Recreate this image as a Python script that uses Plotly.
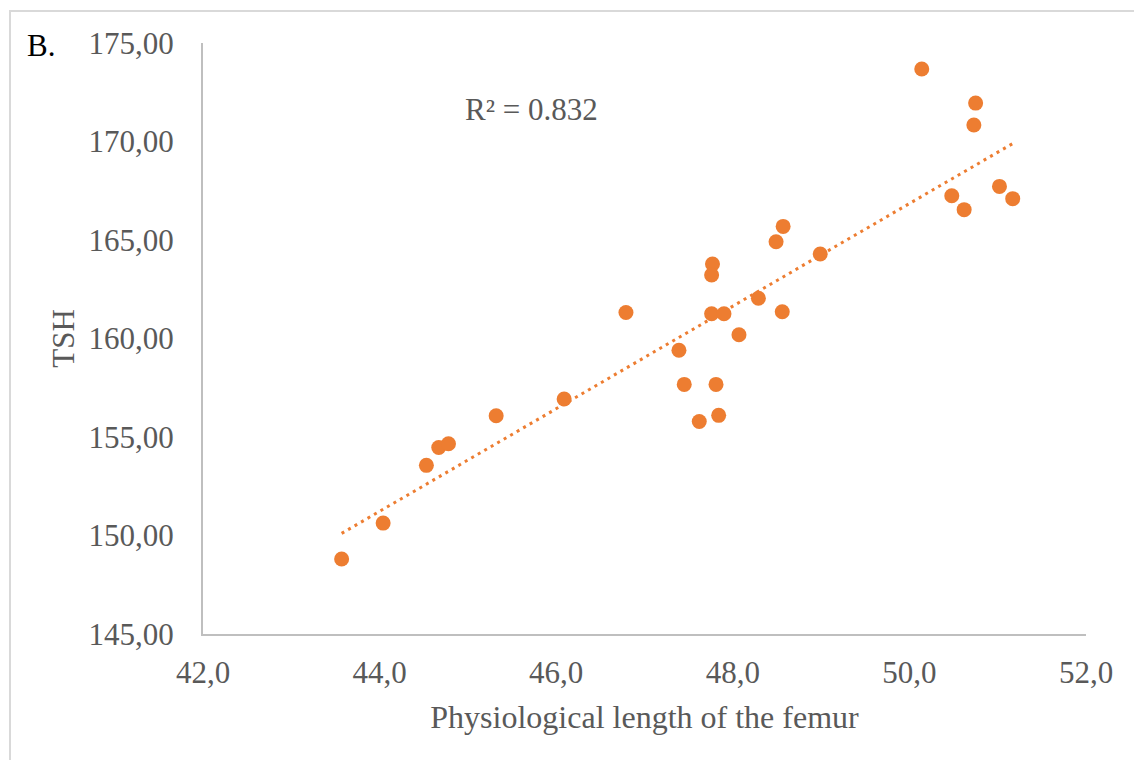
import numpy as np
import plotly.graph_objects as go

# Physiological femur length vs TSH
femur_length = [
    43.57, 44.04, 44.53, 44.67, 44.78, 45.32, 46.09, 46.79, 47.39, 47.45,
    47.62, 47.77, 47.76, 47.76, 47.90, 47.81, 47.84, 48.07, 48.29, 48.49,
    48.57, 48.56, 48.99, 50.14, 50.48, 50.62, 50.73, 50.75, 51.02, 51.17,
]
tsh = [
    148.81, 150.63, 153.56, 154.47, 154.66, 156.08, 156.93, 161.32, 159.40, 157.67,
    155.79, 163.78, 163.22, 161.26, 161.26, 157.67, 156.10, 160.19, 162.04, 164.91,
    165.69, 161.36, 164.29, 173.68, 167.25, 166.54, 170.84, 171.95, 167.72, 167.10,
]
r_squared_label = "R² = 0.832"

ORANGE = "#ED7D31"
GRAY_TEXT = "#595959"
AXIS_GRAY = "#BFBFBF"
FONT = "Liberation Serif"

# linear trend over the data range
slope, intercept = np.polyfit(femur_length, tsh, 1)
trend_x = np.array([min(femur_length), max(femur_length)])
trend_y = slope * trend_x + intercept

fig = go.Figure()
fig.add_trace(go.Scatter(
    x=trend_x, y=trend_y, mode="lines",
    line=dict(color=ORANGE, width=3, dash="3px,4.5px"),
    hoverinfo="skip", showlegend=False,
))
fig.add_trace(go.Scatter(
    x=femur_length, y=tsh, mode="markers",
    marker=dict(color=ORANGE, size=15, line=dict(width=0)),
    showlegend=False,
))

fig.update_layout(
    width=1134, height=760,
    margin=dict(l=203, r=48, t=43, b=126),
    paper_bgcolor="white", plot_bgcolor="white",
    separators=",.",
    font=dict(family=FONT, size=31, color=GRAY_TEXT),
    xaxis=dict(
        range=[42, 52], dtick=2, tick0=42, tickformat=".1f",
        showgrid=False, zeroline=False,
        showline=True, linecolor=AXIS_GRAY, linewidth=2,
        ticks="", ticklabelstandoff=10,
        title=dict(text="Physiological length of the femur", standoff=16,
                   font=dict(family=FONT, size=32, color=GRAY_TEXT)),
    ),
    yaxis=dict(
        range=[145, 175], dtick=5, tick0=145, tickformat=".2f",
        showgrid=False, zeroline=False,
        showline=True, linecolor=AXIS_GRAY, linewidth=2,
        ticks="", ticklabelstandoff=21,
        title=dict(text="TSH", standoff=5,
                   font=dict(family=FONT, size=31, color=GRAY_TEXT)),
    ),
    shapes=[dict(
        type="rect", xref="paper", yref="paper",
        x0=-193 / 883, x1=1.2, y0=-0.5, y1=1 + 32 / 591,
        line=dict(color="#D9D9D9", width=2), fillcolor="rgba(0,0,0,0)",
        layer="below",
    )],
    annotations=[
        dict(text="B.", xref="paper", yref="paper",
             x=-178 / 883, y=1 - 2 / 591, xanchor="left", yanchor="middle",
             showarrow=False, font=dict(family=FONT, size=31, color="black")),
        dict(text=r_squared_label, xref="paper", yref="paper",
             x=(531 - 203) / 883, y=(634 - 110) / 591, xanchor="center", yanchor="middle",
             showarrow=False, font=dict(family=FONT, size=31, color=GRAY_TEXT)),
    ],
)

fig.write_html("out.html")
